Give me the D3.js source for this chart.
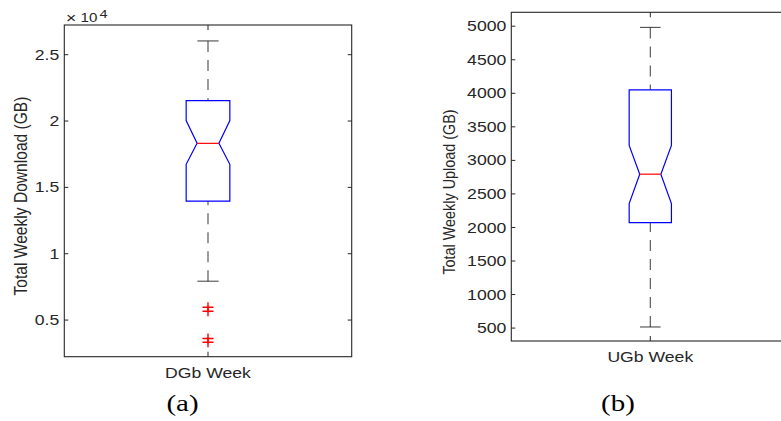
<!DOCTYPE html>
<html><head><meta charset="utf-8">
<script src="https://cdn.jsdelivr.net/npm/d3@7"></script>
<style>body{margin:0;background:#fff}svg{display:block}</style>
</head><body><svg id="c" width="781" height="421"></svg>
<script>
// ---- data ----
const categories = ["DGb Week", "UGb Week"];
const yLabels = ["Total Weekly Download (GB)", "Total Weekly Upload (GB)"];
const panelLabels = ["(a)", "(b)"];
const whiskerLow  = [7890, 509];
const q1          = [13930, 2066];
const notchLow    = [16700, 2350];
const median      = [18280, 2787];
const notchHigh   = [20000, 3215];
const q3          = [21500, 4045];
const whiskerHigh = [26000, 4975];
const downloadOutliers = [5930, 5630, 3570, 3290];
const uploadOutliers = [];
const downloadTicks = [5000, 10000, 15000, 20000, 25000];
const downloadTickLabels = ["0.5", "1", "1.5", "2", "2.5"];
const uploadTicks = [500, 1000, 1500, 2000, 2500, 3000, 3500, 4000, 4500, 5000];
const uploadTickLabels = ["500", "1000", "1500", "2000", "2500", "3000", "3500", "4000", "4500", "5000"];

// ---- layout ----
const SX = 1.26;           // horizontal stretch of the reference text
const AX = "#262626";
const SANS = "'Liberation Sans', Arial, sans-serif";
const svg = d3.select("#c");
const panels = [
  {left: 64.3, right: 351.7, top: 25, bottom: 356.7, domain: [2200, 27200],
   ticks: downloadTicks, tickLabels: downloadTickLabels, outliers: downloadOutliers,
   yLabelX: 26.5, yLabelY: 196, yLabelSize: 15.6, panelX: 182.5, exponent: true},
  {left: 511.3, right: 789.3, top: 12.3, bottom: 341, domain: [300, 5200],
   ticks: uploadTicks, tickLabels: uploadTickLabels, outliers: uploadOutliers,
   yLabelX: 455, yLabelY: 192, yLabelSize: 14.4, panelX: 618, exponent: false}
];

panels.forEach((p, i) => {
  const g = svg.append("g");
  const y = d3.scaleLinear().domain(p.domain).range([p.bottom, p.top]);
  const x = d3.scaleLinear().domain([-1, 1]).range([p.left, p.right]);
  const bw = 0.152, nw = 0.076, cw = 0.074;

  // frame
  g.append("rect").attr("x", p.left).attr("y", p.top)
    .attr("width", p.right - p.left).attr("height", p.bottom - p.top)
    .attr("fill", "none").attr("stroke", AX).attr("stroke-width", 1.1);

  // left axis
  const ya = g.append("g").attr("transform", `translate(${p.left},0)`)
    .call(d3.axisLeft(y).tickValues(p.ticks).tickSizeInner(-4).tickSizeOuter(0)
      .tickPadding(5).tickFormat((d, k) => p.tickLabels[k]));
  ya.select(".domain").remove();
  ya.selectAll("line").attr("stroke", AX);
  ya.selectAll("text").attr("x", null).attr("dy", "0.36em")
    .attr("transform", `translate(-5,0) scale(${SX},1)`)
    .attr("font-family", SANS).attr("font-size", 14).attr("fill", AX);
  // right axis ticks
  const yr = g.append("g").attr("transform", `translate(${p.right},0)`)
    .call(d3.axisRight(y).tickValues(p.ticks).tickSizeInner(-4).tickSizeOuter(0).tickFormat(""));
  yr.select(".domain").remove();
  yr.selectAll("line").attr("stroke", AX);

  // x ticks top/bottom at category
  const cx = x(0);
  g.append("line").attr("x1", cx).attr("x2", cx).attr("y1", p.top).attr("y2", p.top + 5).attr("stroke", AX);
  g.append("line").attr("x1", cx).attr("x2", cx).attr("y1", p.bottom).attr("y2", p.bottom - 5).attr("stroke", AX);
  g.append("text").attr("transform", `translate(${cx},${p.bottom + 21}) scale(${SX},1)`)
    .attr("text-anchor", "middle").attr("font-family", SANS)
    .attr("font-size", 14).attr("fill", AX).text(categories[i]);

  // whiskers
  const dash = "11,8";
  [[q3[i], whiskerHigh[i]], [q1[i], whiskerLow[i]]].forEach(([a, b]) => {
    g.append("line").attr("x1", cx).attr("x2", cx).attr("y1", y(b)).attr("y2", y(a))
      .attr("stroke", "#000").attr("stroke-width", 1.1).attr("stroke-dasharray", dash).attr("opacity", 0.7);
    g.append("line").attr("x1", x(-cw)).attr("x2", x(cw)).attr("y1", y(b)).attr("y2", y(b))
      .attr("stroke", "#000").attr("stroke-width", 1.1).attr("opacity", 0.7);
  });

  // notched box
  const pts = [[-bw, q3[i]], [bw, q3[i]], [bw, notchHigh[i]], [nw, median[i]], [bw, notchLow[i]],
               [bw, q1[i]], [-bw, q1[i]], [-bw, notchLow[i]], [-nw, median[i]], [-bw, notchHigh[i]]];
  g.append("path").attr("d", d3.line().x(d => x(d[0])).y(d => y(d[1]))(pts) + "Z")
    .attr("fill", "none").attr("stroke", "#0000ff").attr("stroke-width", 1.2);
  g.append("line").attr("x1", x(-nw)).attr("x2", x(nw)).attr("y1", y(median[i])).attr("y2", y(median[i]))
    .attr("stroke", "#ff0000").attr("stroke-width", 1.2);

  // outliers
  g.selectAll(".out").data(p.outliers).enter().append("path")
    .attr("d", d => `M${cx - 5.5},${y(d)}H${cx + 5.5}M${cx},${y(d) - 5}V${y(d) + 5}`)
    .attr("stroke", "#ff0000").attr("stroke-width", 1.4).attr("fill", "none");

  // y label
  g.append("text").attr("transform", `translate(${p.yLabelX},${p.yLabelY}) scale(1.12,1) rotate(-90)`)
    .attr("text-anchor", "middle").attr("font-family", SANS)
    .attr("font-size", p.yLabelSize).attr("fill", AX).text(yLabels[i]);

  // exponent
  if (p.exponent) {
    g.append("text").attr("transform", `translate(66,22.5) scale(${SX},1)`).attr("font-family", SANS)
      .attr("font-size", 14).attr("fill", AX).text("×");
    g.append("text").attr("transform", `translate(80.5,22) scale(${SX},1)`).attr("font-family", SANS)
      .attr("font-size", 12).attr("fill", AX).text("10");
    g.append("text").attr("transform", `translate(99.5,18.3) scale(${SX},1)`).attr("font-family", SANS)
      .attr("font-size", 11.5).attr("fill", AX).text("4");
  }

  // panel label
  g.append("text").attr("transform", `translate(${p.panelX},411) scale(${SX},1)`)
    .attr("text-anchor", "middle").attr("font-family", "'Liberation Serif', 'Times New Roman', serif")
    .attr("font-size", 23).attr("fill", "#000").text(panelLabels[i]);
});
</script></body></html>
